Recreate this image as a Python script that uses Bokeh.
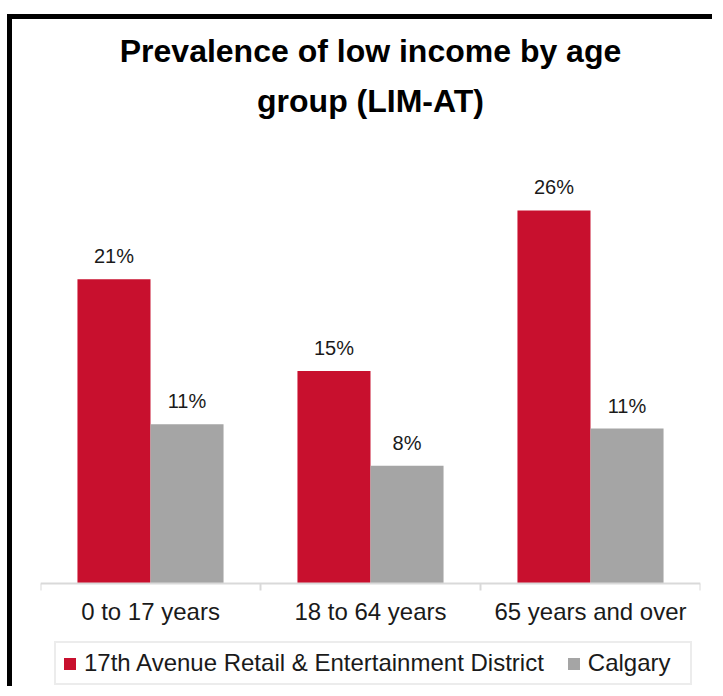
import numpy as np
from bokeh.plotting import figure
from bokeh.models import (ColumnDataSource, FixedTicker, Title, Legend, LegendItem,
                          Range1d, LabelSet)
from bokeh.core.properties import value
from bokeh.embed import file_html
from bokeh.resources import INLINE

title_lines = ["Prevalence of low income by age", "group (LIM-AT)"]
categories = ["0 to 17 years", "18 to 64 years", "65 years and over"]
district = [21.2, 14.8, 26.0]
calgary = [11.1, 8.2, 10.8]
district_labels = ["21%", "15%", "26%"]
calgary_labels = ["11%", "8%", "11%"]
series_names = ["17th Avenue Retail & Entertainment District", "Calgary"]
colors = ["#C8102E", "#A5A5A5"]

idx = np.arange(len(categories))
centers = idx + 0.5
bar_w = 0.332

src_d = ColumnDataSource(dict(x=centers - bar_w / 2, top=district, lab=district_labels))
src_c = ColumnDataSource(dict(x=centers + bar_w / 2, top=calgary, lab=calgary_labels))

FONT = "Liberation Sans"

p = figure(width=705, height=672, output_backend="svg", toolbar_location=None,
           x_range=Range1d(0, len(categories)), y_range=Range1d(-7.39, 31.57),
           min_border_left=28, min_border_right=17, min_border_top=111, min_border_bottom=2)
p.styles = {"margin-top": "14px", "margin-left": "7px", "border-top": "5px solid black",
            "border-left": "5px solid black"}
p.outline_line_color = None
p.grid.grid_line_color = None
p.yaxis.visible = False

r1 = p.vbar(x="x", top="top", width=bar_w, source=src_d, fill_color=colors[0], line_color=None)
r2 = p.vbar(x="x", top="top", width=bar_w, source=src_c, fill_color=colors[1], line_color=None)

for s in (src_d, src_c):
    p.add_layout(LabelSet(x="x", y="top", text="lab", source=s, text_align="center",
                          text_baseline="alphabetic", y_offset=16,
                          text_font=value(FONT), text_font_size="20px", text_color="#1a1a1a"))

ax = p.xaxis[0]
ax.fixed_location = 0
ax.ticker = FixedTicker(ticks=list(centers), minor_ticks=list(np.arange(len(categories) + 1)))
ax.major_label_overrides = {float(c): cat for c, cat in zip(centers, categories)}
ax.major_tick_line_color = None
ax.major_tick_out = 0
ax.major_tick_in = 0
ax.minor_tick_line_color = "#d9d9d9"
ax.minor_tick_line_width = 2
ax.minor_tick_out = 7
ax.minor_tick_in = 0
ax.axis_line_color = "#d9d9d9"
ax.axis_line_width = 2
ax.major_label_standoff = 8
ax.major_label_text_font = FONT
ax.major_label_text_font_size = "24px"
ax.major_label_text_color = "#1a1a1a"

legend = Legend(items=[LegendItem(label=series_names[0], renderers=[r1]),
                       LegendItem(label=series_names[1], renderers=[r2])],
                orientation="horizontal", location=(14, 4),
                label_text_font=FONT, label_text_font_size="24px", label_text_color="#1a1a1a",
                glyph_width=15, glyph_height=15, label_standoff=7, spacing=22,
                padding=6, margin=0, border_line_color="#d9d9d9", border_line_width=2,
                label_width=96, background_fill_alpha=0)
p.add_layout(legend, "center")

# second line first: later 'above' titles stack further from the frame
p.add_layout(Title(text=title_lines[1], align="center", text_font=FONT,
                   text_font_size="32px", text_font_style="bold", text_color="black",
                   standoff=24), "above")
p.add_layout(Title(text=title_lines[0], align="center", text_font=FONT,
                   text_font_size="32px", text_font_style="bold", text_color="black",
                   standoff=0), "above")

open("out.html", "w").write(file_html(p, INLINE))
